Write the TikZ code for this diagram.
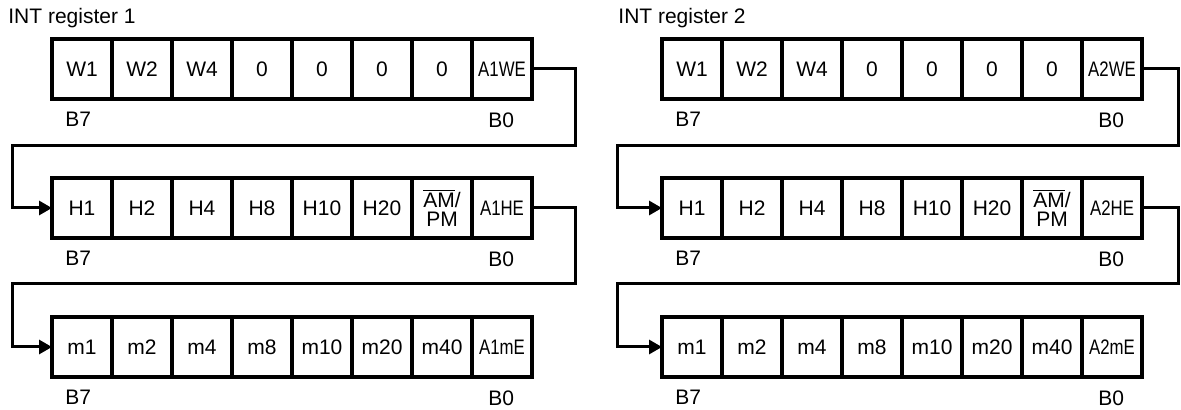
\documentclass[tikz,border=0pt]{standalone}
\usepackage{graphicx}
\usepackage{fontspec}
\setmainfont{Liberation Sans}
\usetikzlibrary{arrows.meta,positioning}

\newcommand{\narrow}[1]{\scalebox{0.8}[1]{#1}}
\newcommand{\ampm}{\mbox{$\overline{\mbox{AM}}$/}\\PM}

\tikzset{
  cell/.style={draw,line width=1.8pt,minimum width=30pt,minimum height=30pt,
    inner sep=0pt,outer sep=0pt,align=center,font=\fontsize{10.5}{9.5}\selectfont},
  bitlbl/.style={inner sep=0pt,font=\fontsize{10.5}{12}\selectfont},
  link/.style={line width=1.5pt,-{Triangle[length=6.5pt,width=7pt]}}
}

\begin{document}
\begin{tikzpicture}[x=0.5pt,y=-0.5pt]
\useasboundingbox (0,0) rectangle (1181,410);

\foreach \p/\xo/\xr/\xl in {1/52/575/12,2/662/1178/617}{
  \node[bitlbl,anchor=base west] (title\p) at (\xo-44,24) {INT register \p};

  % the three bytes
  \foreach \t [count=\i] in {W1,W2,W4,0,0,0,0,\narrow{A\p WE}}
    \node[cell] (w\p\i) at (\xo+60*\i-30,69) {\t};
  \foreach \t [count=\i] in {H1,H2,H4,H8,H10,H20,\ampm,\narrow{A\p HE}}
    \node[cell] (h\p\i) at (\xo+60*\i-30,208) {\t};
  \foreach \t [count=\i] in {m1,m2,m4,m8,m10,m20,m40,\narrow{A\p mE}}
    \node[cell] (m\p\i) at (\xo+60*\i-30,347) {\t};

  \foreach \r in {w,h,m}{
    \node[bitlbl,below right=6.5pt and 6.5pt of \r\p1.south west] {B7};
    \node[bitlbl,below right=6.5pt and 8pt of \r\p8.south west] {B0};
  }

  % wrap-around lines
  \coordinate (edgeA\p) at (\xr,146);
  \coordinate (turnA\p) at (\xl,146);
  \coordinate (edgeB\p) at (\xr,284);
  \coordinate (turnB\p) at (\xl,284);
  \draw[link] (w\p8.east) -| (edgeA\p) -- (turnA\p) |- (h\p1.west);
  \draw[link] (h\p8.east) -| (edgeB\p) -- (turnB\p) |- (m\p1.west);
}

\end{tikzpicture}
\end{document}
